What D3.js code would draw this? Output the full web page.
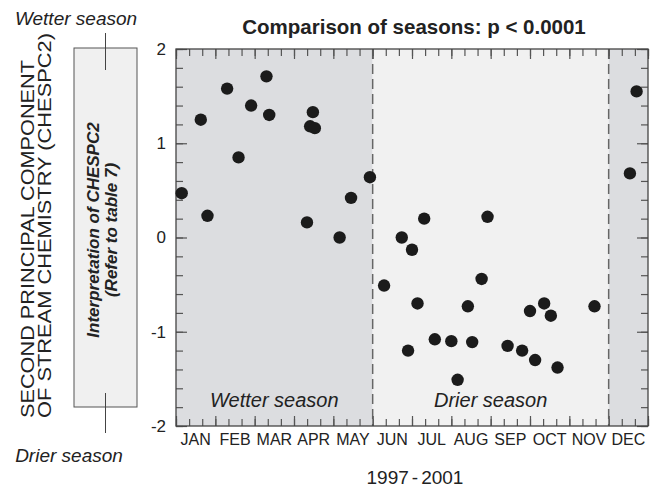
<!DOCTYPE html>
<html>
<head>
<meta charset="utf-8">
<script src="https://cdn.jsdelivr.net/npm/d3@7"></script>
<style>
  html, body { margin: 0; padding: 0; background: #fff; }
  svg { display: block; font-family: "Liberation Sans", Arial, Helvetica, sans-serif; }
</style>
</head>
<body>
<svg id="chart" width="657" height="491"></svg>
<script>
// Month-of-year position (0 = start of January, 12 = end of December)
const sampleMonth = [
  0.145, 0.63, 0.80, 1.30, 1.59, 1.91, 2.30, 2.37, 3.33, 3.41, 3.48, 3.53, 4.16, 4.45, 4.93,
  5.29, 5.74, 5.90, 6.00, 6.14, 6.31, 6.58, 7.00, 7.16, 7.42, 7.53, 7.77, 7.92, 8.43, 8.80,
  9.00, 9.13, 9.36, 9.53, 9.70, 10.64,
  11.54, 11.71
];
// Second principal component of stream chemistry (CHESPC2)
const chespc2 = [
  0.47, 1.25, 0.23, 1.58, 0.85, 1.40, 1.71, 1.30, 0.16, 1.18, 1.33, 1.16, 0.00, 0.42, 0.64,
  -0.51, 0.00, -1.20, -0.13, -0.70, 0.20, -1.08, -1.10, -1.51, -0.73, -1.11, -0.44, 0.22, -1.15, -1.20,
  -0.78, -1.30, -0.70, -0.83, -1.38, -0.73,
  0.68, 1.55
];
const monthLabels = ["JAN","FEB","MAR","APR","MAY","JUN","JUL","AUG","SEP","OCT","NOV","DEC"];
const yTickValues = [-2, -1, 0, 1, 2];
const yTickLabels = ["-2", "-1", "0", "1", "2"];
// Seasons as month ranges
const seasonStart = [0, 5, 11];
const seasonEnd   = [5, 11, 12];
const seasonName  = ["Wetter season", "Drier season", ""];
const seasonWet   = [true, false, true];

const svg = d3.select("#chart");
const margin = { left: 176, right: 9, top: 49, bottom: 65 };
const W = 657, H = 491;
const plotW = W - margin.left - margin.right;
const plotH = H - margin.top - margin.bottom;

const x = d3.scaleLinear().domain([0, 12]).range([0, plotW]);
const y = d3.scaleLinear().domain([-2, 2]).range([plotH, 0]);
const band = d3.scaleBand().domain(monthLabels).range([0, plotW]);

const g = svg.append("g").attr("transform", `translate(${margin.left},${margin.top})`);

// Season backgrounds
const seasons = seasonStart.map((s, i) => ({ s, e: seasonEnd[i], name: seasonName[i], wet: seasonWet[i] }));
g.selectAll("rect.season").data(seasons).join("rect")
  .attr("class", "season")
  .attr("x", d => x(d.s)).attr("width", d => x(d.e) - x(d.s))
  .attr("y", 0).attr("height", plotH)
  .attr("fill", d => d.wet ? "#dcdde0" : "#f1f1f1");

// Season boundaries
g.selectAll("line.boundary").data(seasonStart.slice(1)).join("line")
  .attr("class", "boundary")
  .attr("x1", d => x(d)).attr("x2", d => x(d))
  .attr("y1", 0).attr("y2", plotH)
  .attr("stroke", "#666").attr("stroke-width", 1.5)
  .attr("stroke-dasharray", "10,5");

// Season names
g.selectAll("text.season-name").data(seasons.filter(d => d.name)).join("text")
  .attr("class", "season-name")
  .attr("x", d => x((d.s + d.e) / 2)).attr("y", plotH - 19)
  .attr("text-anchor", "middle")
  .attr("font-size", 20).attr("font-style", "italic").attr("fill", "#222")
  .text(d => d.name);

// Inward tick marks on all four sides
const minorX = d3.range(0, 37).map(i => i / 3);
const majorX = d3.range(0, 13);
const minorY = d3.range(0, 21).map(i => -2 + i * 0.2);

function styleAxis(sel) {
  sel.select(".domain").remove();
  sel.selectAll(".tick line").attr("stroke", "#555").attr("stroke-width", 1.2);
}

g.append("g").attr("transform", `translate(0,${plotH})`)
  .call(d3.axisBottom(x).tickValues(minorX).tickSize(-7).tickFormat(""))
  .call(styleAxis);
g.append("g").attr("transform", `translate(0,${plotH})`)
  .call(d3.axisBottom(x).tickValues(majorX).tickSize(-10).tickFormat(""))
  .call(styleAxis);
g.append("g")
  .call(d3.axisTop(x).tickValues(minorX).tickSize(-7).tickFormat(""))
  .call(styleAxis);
g.append("g")
  .call(d3.axisTop(x).tickValues(majorX).tickSize(-10).tickFormat(""))
  .call(styleAxis);

g.append("g")
  .call(d3.axisLeft(y).tickValues(minorY).tickSize(-7).tickFormat(""))
  .call(styleAxis);
g.append("g")
  .call(d3.axisLeft(y).tickValues(yTickValues).tickSize(-11).tickPadding(10)
    .tickFormat((d, i) => yTickLabels[i]))
  .call(styleAxis)
  .call(a => a.selectAll("text").attr("font-size", 17).attr("fill", "#222")
    .attr("font-family", "Liberation Sans, Arial, sans-serif"));
g.append("g").attr("transform", `translate(${plotW},0)`)
  .call(d3.axisRight(y).tickValues(minorY).tickSize(-7).tickFormat(""))
  .call(styleAxis);
g.append("g").attr("transform", `translate(${plotW},0)`)
  .call(d3.axisRight(y).tickValues(yTickValues).tickSize(-11).tickFormat(""))
  .call(styleAxis);

// Month labels centred in each month
g.append("g").attr("transform", `translate(0,${plotH})`)
  .call(d3.axisBottom(band).tickSize(0).tickPadding(8))
  .call(a => a.select(".domain").remove())
  .call(a => a.selectAll("text").attr("font-size", 16).attr("fill", "#222")
    .attr("font-family", "Liberation Sans, Arial, sans-serif"));

// Plot frame
g.append("rect").attr("width", plotW).attr("height", plotH)
  .attr("fill", "none").attr("stroke", "#444").attr("stroke-width", 1.3);

// Samples
g.selectAll("circle.sample").data(sampleMonth.map((m, i) => [m, chespc2[i]])).join("circle")
  .attr("class", "sample")
  .attr("cx", d => x(d[0])).attr("cy", d => y(d[1]))
  .attr("r", 6.2).attr("fill", "#1b1b1b");

// Title
svg.append("text")
  .attr("x", margin.left + plotW / 2 + 2).attr("y", 34)
  .attr("text-anchor", "middle").attr("font-size", 20.5).attr("font-weight", "bold")
  .attr("fill", "#222")
  .text("Comparison of seasons: p < 0.0001");

// X-axis title
const xt = svg.append("text")
  .attr("x", margin.left + plotW / 2 + 3).attr("y", 484)
  .attr("text-anchor", "middle").attr("font-size", 19).attr("fill", "#222");
xt.append("tspan").text("1997");
xt.append("tspan").attr("dx", 3).text("-");
xt.append("tspan").attr("dx", 3).text("2001");

// Y-axis title (two rotated lines, set wide)
const yTitle = ["SECOND PRINCIPAL COMPONENT", "OF STREAM CHEMISTRY (CHESPC2)"];
const yTitleLength = [358, 385];
svg.selectAll("text.ytitle").data(yTitle).join("text")
  .attr("class", "ytitle")
  .attr("transform", (d, i) => `translate(${33.5 + i * 17.5},418) rotate(-90)`)
  .attr("text-anchor", "start").attr("font-size", 18.5).attr("fill", "#222")
  .attr("textLength", (d, i) => yTitleLength[i])
  .attr("lengthAdjust", "spacingAndGlyphs")
  .text(d => d);

// Interpretation scale
const keyX = 105.5;
svg.append("rect").attr("x", 74).attr("y", 48).attr("width", 63).attr("height", 359)
  .attr("fill", "#f0f0f0").attr("stroke", "#555").attr("stroke-width", 1);
svg.append("line").attr("x1", keyX).attr("x2", keyX).attr("y1", 33).attr("y2", 70)
  .attr("stroke", "#444").attr("stroke-width", 1);
svg.append("line").attr("x1", keyX).attr("x2", keyX).attr("y1", 393).attr("y2", 433)
  .attr("stroke", "#444").attr("stroke-width", 1);
const keyLines = ["Interpretation of CHESPC2", "(Refer to table 7)"];
svg.selectAll("text.key").data(keyLines).join("text")
  .attr("class", "key")
  .attr("transform", (d, i) => `translate(${99 + i * 18},230) rotate(-90)`)
  .attr("text-anchor", "middle").attr("font-size", 17)
  .attr("font-weight", "bold").attr("font-style", "italic").attr("fill", "#222")
  .text(d => d);
svg.append("text").attr("x", 76).attr("y", 25).attr("text-anchor", "middle")
  .attr("font-size", 19).attr("font-style", "italic").attr("fill", "#222")
  .text("Wetter season");
svg.append("text").attr("x", 69).attr("y", 462).attr("text-anchor", "middle")
  .attr("font-size", 19).attr("font-style", "italic").attr("fill", "#222")
  .text("Drier season");
</script>
</body>
</html>
